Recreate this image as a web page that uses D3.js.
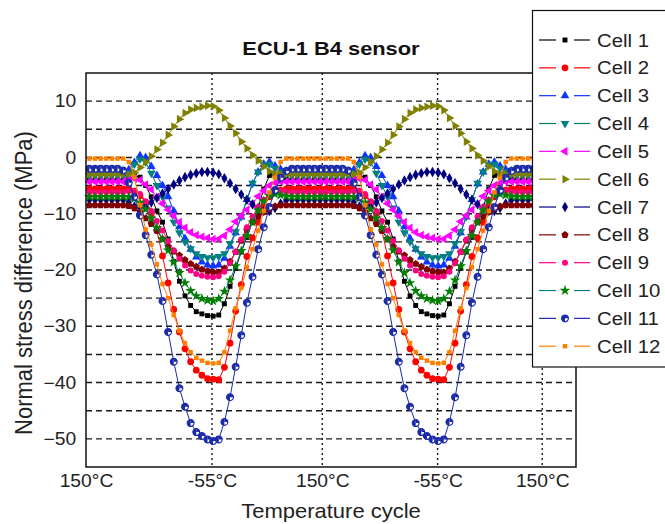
<!DOCTYPE html>
<html>
<head>
<meta charset="utf-8">
<script src="https://cdn.jsdelivr.net/npm/d3@7"></script>
<style>
  html, body { margin: 0; padding: 0; background: #fff; }
  svg { display: block; }
</style>
</head>
<body>
<svg id="chart" width="665" height="524"></svg>
<script>
// ---------------- data ----------------
// x: sample index along the temperature cycle (two full cycles)
const cycleTickValues = [-0.6, 21.8, 41.4, 61.9, 80.5];
const cycleTickLabels = ["150°C", "-55°C", "150°C", "-55°C", "150°C"];
const stressTicks = [10, 0, -10, -20, -30, -40, -50];
const stressGridLevels = [10, 5, 0, -5, -10, -15, -20, -25, -30, -35, -40, -45, -50];

const cellNames = ["Cell 1", "Cell 2", "Cell 3", "Cell 4", "Cell 5", "Cell 6",
                   "Cell 7", "Cell 8", "Cell 9", "Cell 10", "Cell 11", "Cell 12"];

// normal stress difference (MPa) at each sample
const cell1 = [-4,-4,-4,-4,-4,-4,
  -4,-3.8,-3.3,-3.5,-5,-7,-9.5,-11.5,-14.5,-18.5,-22,-24.6,-26.3,-27.4,-27.8,-28.1,-28.2,-28,-26,-22.9,-19.7,-16.8,-14.2,-11.3,-8.9,-5.6,-3.2,-3,-3.5,-3.8,-4,
  -4,-4,-4,-4,-4,-4,-4,-4,-4,
  -4,-3.8,-3.3,-3.5,-5,-7,-9.5,-11.5,-14.5,-18.5,-22,-24.6,-26.3,-27.4,-27.8,-28.1,-28.2,-28,-26,-22.9,-19.7,-16.8,-14.2,-11.3,-8.9,-5.6,-3.2,-3,-3.5,-3.8,-4,
  -4,-4,-4,-4,-4,-4,-4,-4,-4,-4];
const cell2 = [-5.6,-5.6,-5.6,-5.6,-5.6,-5.6,
  -5.6,-5.6,-6,-6.8,-8,-10,-13,-17.5,-22.3,-27,-31,-34,-36.3,-37.8,-38.7,-39.3,-39.4,-39.5,-37.3,-33,-27.3,-22.6,-17.6,-14.3,-11.5,-8.8,-7,-6.1,-5.8,-5.6,-5.6,
  -5.6,-5.6,-5.6,-5.6,-5.6,-5.6,-5.6,-5.6,-5.6,
  -5.6,-5.6,-6,-6.8,-8,-10,-13,-17.5,-22.3,-27,-31,-34,-36.3,-37.8,-38.7,-39.3,-39.4,-39.5,-37.3,-33,-27.3,-22.6,-17.6,-14.3,-11.5,-8.8,-7,-6.1,-5.8,-5.6,-5.6,
  -5.6,-5.6,-5.6,-5.6,-5.6,-5.6,-5.6,-5.6,-5.6,-5.6];
const cell3 = [-2.6,-2.6,-2.6,-2.6,-2.6,-2.6,
  -2.6,-2.2,-0.9,0.3,0,-1.6,-3.2,-5,-7,-9.5,-12.3,-14.4,-16.3,-17.7,-18.6,-19.1,-19.3,-19.1,-17.9,-15.8,-13.4,-10.6,-7.5,-4.7,-2.6,-1.2,-0.8,-1.5,-2.1,-2.4,-2.6,
  -2.6,-2.6,-2.6,-2.6,-2.6,-2.6,-2.6,-2.6,-2.6,
  -2.6,-2.2,-0.9,0.3,0,-1.6,-3.2,-5,-7,-9.5,-12.3,-14.4,-16.3,-17.7,-18.6,-19.1,-19.3,-19.1,-17.9,-15.8,-13.4,-10.6,-7.5,-4.7,-2.6,-1.2,-0.8,-1.5,-2.1,-2.4,-2.6,
  -2.6,-2.6,-2.6,-2.6,-2.6,-2.6,-2.6,-2.6,-2.6,-2.6];
const cell4 = [-3.2,-3.2,-3.2,-3.2,-3.2,-3.2,
  -3.2,-2.8,-1.2,-0.3,-0.8,-2.8,-5,-7,-9,-11.5,-13.4,-15,-16.2,-17.1,-17.6,-17.8,-17.8,-17.6,-17.1,-15.3,-13.2,-10.5,-7.5,-4.6,-2.6,-1.3,-1.2,-1.9,-2.6,-3,-3.2,
  -3.2,-3.2,-3.2,-3.2,-3.2,-3.2,-3.2,-3.2,-3.2,
  -3.2,-2.8,-1.2,-0.3,-0.8,-2.8,-5,-7,-9,-11.5,-13.4,-15,-16.2,-17.1,-17.6,-17.8,-17.8,-17.6,-17.1,-15.3,-13.2,-10.5,-7.5,-4.6,-2.6,-1.3,-1.2,-1.9,-2.6,-3,-3.2,
  -3.2,-3.2,-3.2,-3.2,-3.2,-3.2,-3.2,-3.2,-3.2,-3.2];
const cell5 = [-4.3,-4.3,-4.3,-4.3,-4.3,-4.3,
  -4.3,-4,-3.8,-4,-4.8,-5.7,-7,-8.2,-9.3,-10.4,-11.5,-12.5,-13.3,-13.8,-14.1,-14.3,-14.5,-14.5,-13.9,-12.8,-11.4,-10.3,-9.3,-8.3,-6.9,-5.9,-5,-4.5,-4.3,-4.3,-4.3,
  -4.3,-4.3,-4.3,-4.3,-4.3,-4.3,-4.3,-4.3,-4.3,
  -4.3,-4,-3.8,-4,-4.8,-5.7,-7,-8.2,-9.3,-10.4,-11.5,-12.5,-13.3,-13.8,-14.1,-14.3,-14.5,-14.5,-13.9,-12.8,-11.4,-10.3,-9.3,-8.3,-6.9,-5.9,-5,-4.5,-4.3,-4.3,-4.3,
  -4.3,-4.3,-4.3,-4.3,-4.3,-4.3,-4.3,-4.3,-4.3,-4.3];
const cell6 = [-3,-3,-3,-3,-3,-3,
  -3,-3,-2.7,-1.8,-0.8,0.2,1.4,2.6,4,5.5,6.8,7.9,8.5,8.8,9,9.2,9.1,8.4,7,5.6,4.3,2.8,1.6,0.4,-0.6,-1.6,-2.5,-3,-3,-3,-3,
  -3,-3,-3,-3,-3,-3,-3,-3,-3,
  -3,-3,-2.7,-1.8,-0.8,0.2,1.4,2.6,4,5.5,6.8,7.9,8.5,8.8,9,9.2,9.1,8.4,7,5.6,4.3,2.8,1.6,0.4,-0.6,-1.6,-2.5,-3,-3,-3,-3,
  -3,-3,-3,-3,-3,-3,-3,-3,-3,-3];
const cell7 = [-7.5,-7.5,-7.5,-7.5,-7.5,-7.5,
  -7.5,-8,-8.7,-9,-8.7,-8,-7.2,-6.4,-5.6,-4.8,-4.1,-3.5,-3.1,-2.8,-2.6,-2.6,-2.7,-3,-3.7,-4.6,-5.6,-6.6,-7.5,-8.3,-9,-9.5,-9.5,-9,-8.2,-7.6,-7.5,
  -7.5,-7.5,-7.5,-7.5,-7.5,-7.5,-7.5,-7.5,-7.5,
  -7.5,-8,-8.7,-9,-8.7,-8,-7.2,-6.4,-5.6,-4.8,-4.1,-3.5,-3.1,-2.8,-2.6,-2.6,-2.7,-3,-3.7,-4.6,-5.6,-6.6,-7.5,-8.3,-9,-9.5,-9.5,-9,-8.2,-7.6,-7.5,
  -7.5,-7.5,-7.5,-7.5,-7.5,-7.5,-7.5,-7.5,-7.5,-7.5];
const cell8 = [-8.5,-8.5,-8.5,-8.5,-8.5,-8.5,
  -8.5,-8.6,-9,-9.7,-10.8,-11.8,-13,-14.5,-15.8,-16.7,-17.4,-18.2,-18.9,-19.4,-19.9,-20.2,-20.4,-20.4,-19.7,-18.5,-16.8,-14.8,-12.9,-11.5,-10.5,-9.7,-9.2,-8.7,-8.5,-8.5,-8.5,
  -8.5,-8.5,-8.5,-8.5,-8.5,-8.5,-8.5,-8.5,-8.5,
  -8.5,-8.6,-9,-9.7,-10.8,-11.8,-13,-14.5,-15.8,-16.7,-17.4,-18.2,-18.9,-19.4,-19.9,-20.2,-20.4,-20.4,-19.7,-18.5,-16.8,-14.8,-12.9,-11.5,-10.5,-9.7,-9.2,-8.7,-8.5,-8.5,-8.5,
  -8.5,-8.5,-8.5,-8.5,-8.5,-8.5,-8.5,-8.5,-8.5,-8.5];
const cell9 = [-6.2,-6.2,-6.2,-6.2,-6.2,-6.2,
  -6.2,-6,-6,-6.5,-7.8,-9.5,-11.3,-13,-14.8,-16.5,-18,-19.2,-20.1,-20.7,-21,-21.2,-21.3,-21.1,-20.3,-18.8,-16.8,-14.6,-12.4,-10.5,-8.8,-7.5,-6.6,-6,-6,-6.1,-6.2,
  -6.2,-6.2,-6.2,-6.2,-6.2,-6.2,-6.2,-6.2,-6.2,
  -6.2,-6,-6,-6.5,-7.8,-9.5,-11.3,-13,-14.8,-16.5,-18,-19.2,-20.1,-20.7,-21,-21.2,-21.3,-21.1,-20.3,-18.8,-16.8,-14.6,-12.4,-10.5,-8.8,-7.5,-6.6,-6,-6,-6.1,-6.2,
  -6.2,-6.2,-6.2,-6.2,-6.2,-6.2,-6.2,-6.2,-6.2,-6.2];
const cell10 = [-7,-7,-7,-7,-7,-7,
  -7,-7,-7.3,-8,-9.2,-10.8,-12.5,-14.5,-16.5,-18.6,-20.5,-22.3,-23.7,-24.6,-25.1,-25.4,-25.5,-25.1,-23.8,-21.8,-19.3,-16.6,-13.9,-11.5,-9.4,-7.8,-6.8,-6.5,-6.7,-6.9,-7,
  -7,-7,-7,-7,-7,-7,-7,-7,-7,
  -7,-7,-7.3,-8,-9.2,-10.8,-12.5,-14.5,-16.5,-18.6,-20.5,-22.3,-23.7,-24.6,-25.1,-25.4,-25.5,-25.1,-23.8,-21.8,-19.3,-16.6,-13.9,-11.5,-9.4,-7.8,-6.8,-6.5,-6.7,-6.9,-7,
  -7,-7,-7,-7,-7,-7,-7,-7,-7,-7];
const cell11 = [-2,-2,-2,-2,-2,-2,
  -2.3,-4.5,-7,-10.3,-13.8,-17.3,-20.8,-25.5,-31,-36.3,-41,-44.3,-47.2,-48.8,-49.5,-50.1,-50.4,-50.1,-47,-42.6,-37.2,-31.6,-25.8,-21.2,-16.3,-12.4,-8.8,-5.8,-3.6,-2.4,-2,
  -2,-2,-2,-2,-2,-2,-2,-2,-2,
  -2.3,-4.5,-7,-10.3,-13.8,-17.3,-20.8,-25.5,-31,-36.3,-41,-44.3,-47.2,-48.8,-49.5,-50.1,-50.4,-50.1,-47,-42.6,-37.2,-31.6,-25.8,-21.2,-16.3,-12.4,-8.8,-5.8,-3.6,-2.4,-2,
  -2,-2,-2,-2,-2,-2,-2,-2,-2,-2];
const cell12 = [-0.2,-0.2,-0.2,-0.2,-0.2,-0.2,
  -0.2,-0.8,-3.5,-8.5,-12.8,-15.5,-19,-22.5,-25,-28,-30.8,-33,-34.6,-35.6,-36.1,-36.5,-36.6,-36.5,-34.6,-30.8,-26.8,-23.2,-19.5,-16.3,-13,-9.5,-6.2,-3.6,-0.8,-0.2,-0.2,
  -0.2,-0.2,-0.2,-0.2,-0.2,-0.2,-0.2,-0.2,-0.2,
  -0.2,-0.8,-3.5,-8.5,-12.8,-15.5,-19,-22.5,-25,-28,-30.8,-33,-34.6,-35.6,-36.1,-36.5,-36.6,-36.5,-34.6,-30.8,-26.8,-23.2,-19.5,-16.3,-13,-9.5,-6.2,-3.6,-0.8,-0.2,-0.2,
  -0.2,-0.2,-0.2,-0.2,-0.2,-0.2,-0.2,-0.2,-0.2,-0.2];

const cellValues = [cell1, cell2, cell3, cell4, cell5, cell6, cell7, cell8, cell9, cell10, cell11, cell12];

// ---------------- styles ----------------
const pentagon = {
  draw(ctx, size) {
    const r = Math.sqrt(size / 2.378);
    for (let k = 0; k < 5; k++) {
      const a = -Math.PI / 2 + k * 2 * Math.PI / 5;
      const px = r * Math.cos(a), py = r * Math.sin(a);
      if (k === 0) ctx.moveTo(px, py); else ctx.lineTo(px, py);
    }
    ctx.closePath();
  }
};

const cellStyles = [
  { line: "#000000", fill: "#000000", shape: d3.symbolSquare,   size: 24, rot: 0 },
  { line: "#ff0000", fill: "#ff0000", shape: d3.symbolCircle,   size: 36, rot: 0 },
  { line: "#1034ff", fill: "#1034ff", shape: d3.symbolTriangle, size: 32, rot: 0 },
  { line: "#007f5f", fill: "#008080", shape: d3.symbolTriangle, size: 32, rot: 180 },
  { line: "#ff00ff", fill: "#ff00ff", shape: d3.symbolTriangle, size: 32, rot: -90 },
  { line: "#808000", fill: "#808000", shape: d3.symbolTriangle, size: 32, rot: 90 },
  { line: "#000080", fill: "#000080", shape: d3.symbolDiamond,  size: 32, rot: 0 },
  { line: "#800000", fill: "#800000", shape: pentagon,          size: 34, rot: 0 },
  { line: "#ff0080", fill: "#ff0080", shape: d3.symbolCircle,   size: 28, rot: 0 },
  { line: "#008080", fill: "#008000", shape: d3.symbolStar,     size: 36, rot: 0 },
  { line: "#1a2aa8", fill: "#1a2aa8", shape: "half",            size: 36, rot: 0 },
  { line: "#ff8000", fill: "#ff8000", shape: d3.symbolSquare,   size: 20, rot: 0 }
];

// ---------------- layout ----------------
const plot = { left: 86, right: 576, top: 73, bottom: 467 };
const fontFamily = 'Arial, "Liberation Sans", sans-serif';

const x = d3.scaleLinear().domain([-0.6, 86.5]).range([plot.left, plot.right]);
const y = d3.scaleLinear().domain([-55, 15]).range([plot.bottom, plot.top]);

const svg = d3.select("#chart");
svg.append("rect").attr("width", 665).attr("height", 524).attr("fill", "#fff");

// grid
svg.append("g").selectAll("line").data(stressGridLevels).join("line")
  .attr("x1", plot.left).attr("x2", plot.right)
  .attr("y1", d => y(d)).attr("y2", d => y(d))
  .attr("stroke", "#1a1a1a").attr("stroke-width", 1.4)
  .attr("stroke-dasharray", "6,4");

svg.append("g").selectAll("line").data(cycleTickValues.slice(1)).join("line")
  .attr("x1", d => x(d)).attr("x2", d => x(d))
  .attr("y1", plot.top).attr("y2", plot.bottom)
  .attr("stroke", "#1a1a1a").attr("stroke-width", 1.4)
  .attr("stroke-dasharray", "2,3");

// marker drawing
function drawMarker(sel, st) {
  if (st.shape === "half") {
    const r = Math.sqrt(st.size / Math.PI);
    sel.append("circle").attr("r", r).attr("fill", "#fff")
      .attr("stroke", st.fill).attr("stroke-width", 1.2);
    sel.append("path")
      .attr("d", `M0,${-r} A${r},${r} 0 0,0 0,${r} Z`)
      .attr("fill", st.fill);
    sel.append("path")
      .attr("d", `M0,${-r} A${r},${r} 0 0,1 ${r},0 L0,0 Z`)
      .attr("fill", st.fill);
  } else {
    sel.append("path")
      .attr("d", d3.symbol().type(st.shape).size(st.size)())
      .attr("transform", `rotate(${st.rot})`)
      .attr("fill", st.fill);
  }
}

// series
const line = d3.line().x((d, i) => x(i)).y(d => y(d));
const seriesG = svg.append("g");
cellValues.forEach((vals, si) => {
  const st = cellStyles[si];
  const g = seriesG.append("g").attr("class", "cell-series");
  g.append("path").datum(vals)
    .attr("d", line)
    .attr("fill", "none")
    .attr("stroke", st.line)
    .attr("stroke-width", 1);
  g.selectAll("g.pt").data(vals).join("g")
    .attr("class", "pt")
    .attr("transform", (d, i) => `translate(${x(i)},${y(d)})`)
    .each(function () { drawMarker(d3.select(this), st); });
});

// frame
svg.append("rect")
  .attr("x", plot.left).attr("y", plot.top)
  .attr("width", plot.right - plot.left).attr("height", plot.bottom - plot.top)
  .attr("fill", "none").attr("stroke", "#111").attr("stroke-width", 1.5);

// axes
const yAxis = svg.append("g")
  .attr("transform", `translate(${plot.left},0)`)
  .call(d3.axisLeft(y).tickValues(stressTicks).tickSize(0).tickPadding(9));
yAxis.select(".domain").remove();
yAxis.selectAll("text")
  .attr("font-family", fontFamily).attr("font-size", 17.5).attr("fill", "#222")
  .attr("transform", "scale(1.1,1)");

const xAxis = svg.append("g")
  .attr("transform", `translate(0,${plot.bottom})`)
  .call(d3.axisBottom(x).tickValues(cycleTickValues)
    .tickFormat((d, i) => cycleTickLabels[i]).tickSize(0).tickPadding(8));
xAxis.select(".domain").remove();
xAxis.selectAll(".tick text")
  .attr("font-family", fontFamily).attr("font-size", 17.5)
  .attr("fill", "#222").attr("transform", "scale(1.1,1)");

// titles
svg.append("text")
  .attr("transform", "translate(331,55) scale(1.15,1)")
  .attr("text-anchor", "middle")
  .attr("font-family", fontFamily).attr("font-weight", "bold")
  .attr("font-size", 19).attr("fill", "#111")
  .text("ECU-1 B4 sensor");

svg.append("text")
  .attr("transform", "translate(331,518) scale(1.1,1)")
  .attr("text-anchor", "middle")
  .attr("font-family", fontFamily).attr("font-size", 20).attr("fill", "#222")
  .text("Temperature cycle");

svg.append("text")
  .attr("transform", "translate(32,283) rotate(-90) scale(1,1.1)")
  .attr("text-anchor", "middle")
  .attr("font-family", fontFamily).attr("font-size", 22).attr("fill", "#222")
  .text("Normal stress difference (MPa)");

// legend
const legend = svg.append("g");
legend.append("rect")
  .attr("x", 532.5).attr("y", 10.5).attr("width", 150).attr("height", 356.5)
  .attr("fill", "#fff").attr("stroke", "#111").attr("stroke-width", 1.2);
const rowY = d3.scalePoint().domain(cellNames).range([40, 346.2]);
cellNames.forEach((name, si) => {
  const st = cellStyles[si];
  const cy = rowY(name);
  const row = legend.append("g");
  row.append("line").attr("x1", 539).attr("x2", 556).attr("y1", cy).attr("y2", cy)
    .attr("stroke", st.line).attr("stroke-width", 1.2);
  row.append("line").attr("x1", 574).attr("x2", 590).attr("y1", cy).attr("y2", cy)
    .attr("stroke", st.line).attr("stroke-width", 1.2);
  const m = row.append("g").attr("transform", `translate(565,${cy})`);
  drawMarker(m, st);
  row.append("text")
    .attr("transform", `translate(597,${cy + 6.6}) scale(1.1,1)`)
    .attr("font-family", fontFamily).attr("font-size", 18.5).attr("fill", "#222")
    .text(name);
});
</script>
</body>
</html>
